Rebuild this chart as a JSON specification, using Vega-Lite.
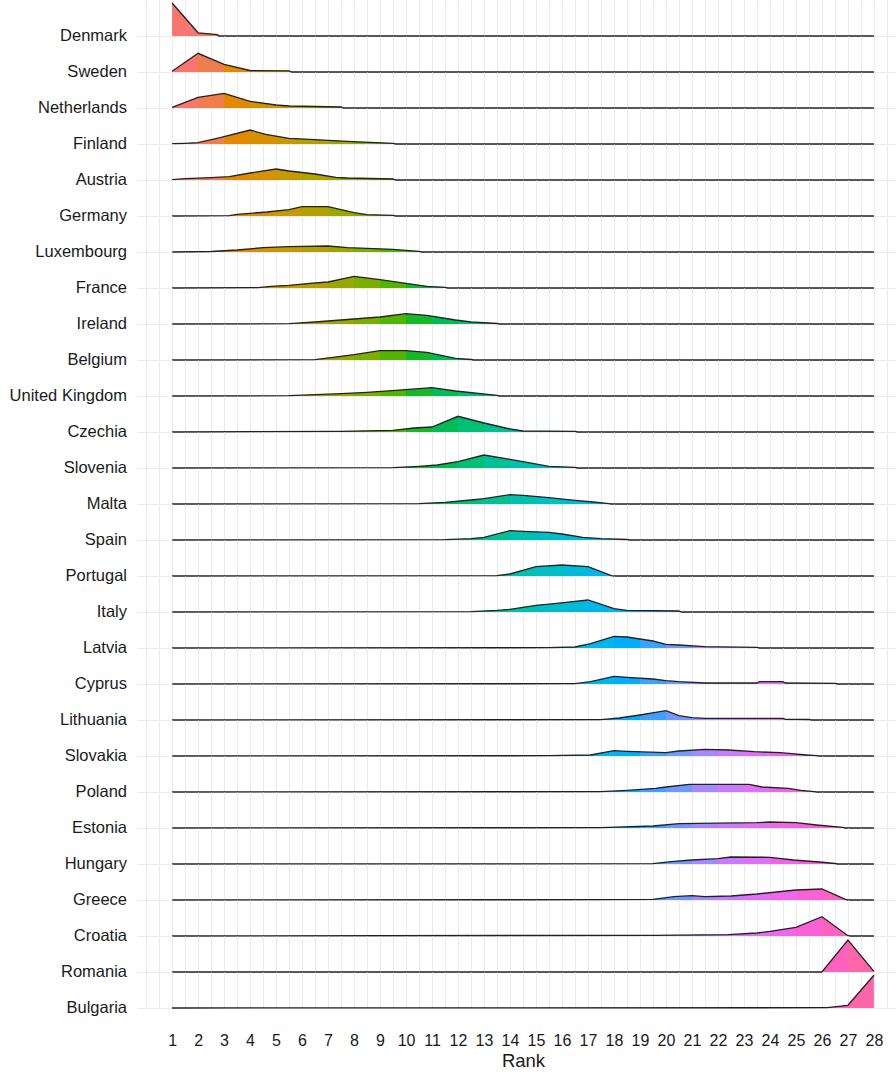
{
  "$schema": "https://vega.github.io/schema/vega-lite/v6.json",
  "padding": {"left": 9, "top": 0, "right": 0, "bottom": 0},
  "background": "white",
  "bounds": "flush",
  "data": {"values": [
    {"country":"Denmark","rank":1,"density":33},{"country":"Denmark","rank":2,"density":3.2},{"country":"Denmark","rank":2.75,"density":1.3},{"country":"Denmark","rank":2.8,"density":0},{"country":"Denmark","rank":28,"density":0},
    {"country":"Sweden","rank":1,"density":0.7},{"country":"Sweden","rank":2,"density":18.7},{"country":"Sweden","rank":3,"density":7.7},{"country":"Sweden","rank":4,"density":1.5},{"country":"Sweden","rank":5.5,"density":1.2},{"country":"Sweden","rank":5.6,"density":0},{"country":"Sweden","rank":28,"density":0},
    {"country":"Netherlands","rank":1,"density":0.7},{"country":"Netherlands","rank":2,"density":10.7},{"country":"Netherlands","rank":3,"density":14.7},{"country":"Netherlands","rank":4,"density":6.7},{"country":"Netherlands","rank":5,"density":3},{"country":"Netherlands","rank":5.5,"density":2},{"country":"Netherlands","rank":7.5,"density":1},{"country":"Netherlands","rank":7.6,"density":0},{"country":"Netherlands","rank":28,"density":0},
    {"country":"Finland","rank":1,"density":0.3},{"country":"Finland","rank":1.5,"density":0.7},{"country":"Finland","rank":2,"density":1.3},{"country":"Finland","rank":2.85,"density":6.3},{"country":"Finland","rank":4,"density":14},{"country":"Finland","rank":4.6,"density":9.7},{"country":"Finland","rank":5.5,"density":5.7},{"country":"Finland","rank":6.5,"density":4.3},{"country":"Finland","rank":7.75,"density":2.7},{"country":"Finland","rank":9.5,"density":0.7},{"country":"Finland","rank":9.6,"density":0},{"country":"Finland","rank":28,"density":0},
    {"country":"Austria","rank":1,"density":0.3},{"country":"Austria","rank":1.5,"density":1.3},{"country":"Austria","rank":2.5,"density":2.3},{"country":"Austria","rank":3.2,"density":3.3},{"country":"Austria","rank":4,"density":7},{"country":"Austria","rank":5,"density":11},{"country":"Austria","rank":5.5,"density":9},{"country":"Austria","rank":6.5,"density":6},{"country":"Austria","rank":7.3,"density":2.7},{"country":"Austria","rank":7.75,"density":2},{"country":"Austria","rank":9.5,"density":1},{"country":"Austria","rank":9.6,"density":0},{"country":"Austria","rank":28,"density":0},
    {"country":"Germany","rank":1,"density":0},{"country":"Germany","rank":3.2,"density":0.3},{"country":"Germany","rank":3.5,"density":1.7},{"country":"Germany","rank":4.65,"density":4},{"country":"Germany","rank":5.5,"density":6.3},{"country":"Germany","rank":6,"density":9.3},{"country":"Germany","rank":7,"density":9.3},{"country":"Germany","rank":8,"density":3.3},{"country":"Germany","rank":8.5,"density":1.3},{"country":"Germany","rank":9.5,"density":0.7},{"country":"Germany","rank":9.6,"density":0},{"country":"Germany","rank":28,"density":0},
    {"country":"Luxembourg","rank":1,"density":0},{"country":"Luxembourg","rank":2.5,"density":0.5},{"country":"Luxembourg","rank":3.5,"density":2},{"country":"Luxembourg","rank":4.5,"density":4.3},{"country":"Luxembourg","rank":5.5,"density":5.3},{"country":"Luxembourg","rank":7,"density":6},{"country":"Luxembourg","rank":7.75,"density":4.3},{"country":"Luxembourg","rank":9.5,"density":2.7},{"country":"Luxembourg","rank":10.5,"density":0.7},{"country":"Luxembourg","rank":10.6,"density":0},{"country":"Luxembourg","rank":28,"density":0},
    {"country":"France","rank":1,"density":0},{"country":"France","rank":4.3,"density":0.3},{"country":"France","rank":4.8,"density":1.7},{"country":"France","rank":5.5,"density":2.7},{"country":"France","rank":6.3,"density":4.7},{"country":"France","rank":7,"density":6},{"country":"France","rank":8,"density":11.7},{"country":"France","rank":9,"density":8.3},{"country":"France","rank":10,"density":4.7},{"country":"France","rank":10.8,"density":1.7},{"country":"France","rank":11.5,"density":0.7},{"country":"France","rank":11.6,"density":0},{"country":"France","rank":28,"density":0},
    {"country":"Ireland","rank":1,"density":0},{"country":"Ireland","rank":5.5,"density":0.3},{"country":"Ireland","rank":6.5,"density":2},{"country":"Ireland","rank":7.5,"density":4},{"country":"Ireland","rank":9,"density":7},{"country":"Ireland","rank":10,"density":10.3},{"country":"Ireland","rank":10.8,"density":8.7},{"country":"Ireland","rank":11.9,"density":4},{"country":"Ireland","rank":12.5,"density":2},{"country":"Ireland","rank":13.5,"density":0.5},{"country":"Ireland","rank":13.6,"density":0},{"country":"Ireland","rank":28,"density":0},
    {"country":"Belgium","rank":1,"density":0},{"country":"Belgium","rank":6.5,"density":0.3},{"country":"Belgium","rank":7.2,"density":2.7},{"country":"Belgium","rank":8,"density":5.3},{"country":"Belgium","rank":9,"density":9.3},{"country":"Belgium","rank":10,"density":9.3},{"country":"Belgium","rank":10.8,"density":7.7},{"country":"Belgium","rank":11.9,"density":1.7},{"country":"Belgium","rank":12.5,"density":0.5},{"country":"Belgium","rank":12.6,"density":0},{"country":"Belgium","rank":28,"density":0},
    {"country":"United Kingdom","rank":1,"density":0},{"country":"United Kingdom","rank":5.5,"density":0.3},{"country":"United Kingdom","rank":7.5,"density":2.3},{"country":"United Kingdom","rank":8.5,"density":3.7},{"country":"United Kingdom","rank":9.6,"density":5.7},{"country":"United Kingdom","rank":11,"density":8.3},{"country":"United Kingdom","rank":11.9,"density":5},{"country":"United Kingdom","rank":13.5,"density":0.7},{"country":"United Kingdom","rank":13.6,"density":0},{"country":"United Kingdom","rank":28,"density":0},
    {"country":"Czechia","rank":1,"density":0},{"country":"Czechia","rank":7.5,"density":0.7},{"country":"Czechia","rank":9.5,"density":1.7},{"country":"Czechia","rank":10.3,"density":4},{"country":"Czechia","rank":11,"density":5},{"country":"Czechia","rank":12,"density":15.7},{"country":"Czechia","rank":13,"density":9},{"country":"Czechia","rank":14,"density":3},{"country":"Czechia","rank":14.5,"density":1},{"country":"Czechia","rank":16.5,"density":0.7},{"country":"Czechia","rank":16.6,"density":0},{"country":"Czechia","rank":28,"density":0},
    {"country":"Slovenia","rank":1,"density":0},{"country":"Slovenia","rank":9.5,"density":0.3},{"country":"Slovenia","rank":10.5,"density":1.7},{"country":"Slovenia","rank":11.2,"density":3},{"country":"Slovenia","rank":12,"density":6.3},{"country":"Slovenia","rank":13,"density":13},{"country":"Slovenia","rank":14,"density":8.7},{"country":"Slovenia","rank":14.5,"density":6.3},{"country":"Slovenia","rank":15.5,"density":1.7},{"country":"Slovenia","rank":16.5,"density":0.7},{"country":"Slovenia","rank":16.6,"density":0},{"country":"Slovenia","rank":28,"density":0},
    {"country":"Malta","rank":1,"density":0},{"country":"Malta","rank":10.5,"density":0.3},{"country":"Malta","rank":11.5,"density":1.7},{"country":"Malta","rank":12.5,"density":4},{"country":"Malta","rank":13,"density":5.3},{"country":"Malta","rank":14,"density":9.3},{"country":"Malta","rank":14.5,"density":8.7},{"country":"Malta","rank":15.5,"density":6.3},{"country":"Malta","rank":16.5,"density":3.7},{"country":"Malta","rank":17.2,"density":2},{"country":"Malta","rank":17.8,"density":0.3},{"country":"Malta","rank":17.9,"density":0},{"country":"Malta","rank":28,"density":0},
    {"country":"Spain","rank":1,"density":0},{"country":"Spain","rank":11.5,"density":0.3},{"country":"Spain","rank":12.5,"density":1.3},{"country":"Spain","rank":13,"density":2.7},{"country":"Spain","rank":14,"density":9.3},{"country":"Spain","rank":14.5,"density":8.7},{"country":"Spain","rank":15.5,"density":7.7},{"country":"Spain","rank":16,"density":6},{"country":"Spain","rank":16.8,"density":2.7},{"country":"Spain","rank":17.5,"density":1.3},{"country":"Spain","rank":18.5,"density":0.5},{"country":"Spain","rank":18.6,"density":0},{"country":"Spain","rank":28,"density":0},
    {"country":"Portugal","rank":1,"density":0},{"country":"Portugal","rank":13.5,"density":0.3},{"country":"Portugal","rank":14,"density":2},{"country":"Portugal","rank":15,"density":9.3},{"country":"Portugal","rank":16,"density":11},{"country":"Portugal","rank":17,"density":9.3},{"country":"Portugal","rank":17.9,"density":0.3},{"country":"Portugal","rank":18,"density":0},{"country":"Portugal","rank":28,"density":0},
    {"country":"Italy","rank":1,"density":0},{"country":"Italy","rank":12.5,"density":0.3},{"country":"Italy","rank":13.5,"density":1.7},{"country":"Italy","rank":14,"density":2.7},{"country":"Italy","rank":15,"density":6.7},{"country":"Italy","rank":15.8,"density":8.7},{"country":"Italy","rank":17,"density":12},{"country":"Italy","rank":18,"density":3.3},{"country":"Italy","rank":18.5,"density":1.7},{"country":"Italy","rank":20.5,"density":1},{"country":"Italy","rank":20.6,"density":0},{"country":"Italy","rank":28,"density":0},
    {"country":"Latvia","rank":1,"density":0},{"country":"Latvia","rank":15.5,"density":0.3},{"country":"Latvia","rank":16.5,"density":1},{"country":"Latvia","rank":17.1,"density":4.3},{"country":"Latvia","rank":18,"density":11.7},{"country":"Latvia","rank":18.5,"density":11},{"country":"Latvia","rank":19.5,"density":7},{"country":"Latvia","rank":20,"density":3.7},{"country":"Latvia","rank":20.5,"density":3},{"country":"Latvia","rank":21.5,"density":1.3},{"country":"Latvia","rank":23.5,"density":0.7},{"country":"Latvia","rank":23.6,"density":0},{"country":"Latvia","rank":28,"density":0},
    {"country":"Cyprus","rank":1,"density":0},{"country":"Cyprus","rank":16.5,"density":0.3},{"country":"Cyprus","rank":17.1,"density":2.3},{"country":"Cyprus","rank":18,"density":7.7},{"country":"Cyprus","rank":18.5,"density":6.7},{"country":"Cyprus","rank":19.5,"density":5},{"country":"Cyprus","rank":20,"density":3.3},{"country":"Cyprus","rank":20.5,"density":2.3},{"country":"Cyprus","rank":21.5,"density":1},{"country":"Cyprus","rank":23.5,"density":1},{"country":"Cyprus","rank":23.6,"density":2.3},{"country":"Cyprus","rank":24.5,"density":2.3},{"country":"Cyprus","rank":24.6,"density":1},{"country":"Cyprus","rank":26.5,"density":0.7},{"country":"Cyprus","rank":26.6,"density":0},{"country":"Cyprus","rank":28,"density":0},
    {"country":"Lithuania","rank":1,"density":0},{"country":"Lithuania","rank":17.5,"density":0.3},{"country":"Lithuania","rank":18.2,"density":2},{"country":"Lithuania","rank":19,"density":5},{"country":"Lithuania","rank":20,"density":9.3},{"country":"Lithuania","rank":20.5,"density":4.3},{"country":"Lithuania","rank":21,"density":2.3},{"country":"Lithuania","rank":21.5,"density":1.7},{"country":"Lithuania","rank":24.5,"density":1.7},{"country":"Lithuania","rank":24.6,"density":0.7},{"country":"Lithuania","rank":25.5,"density":0.5},{"country":"Lithuania","rank":25.6,"density":0},{"country":"Lithuania","rank":28,"density":0},
    {"country":"Slovakia","rank":1,"density":0},{"country":"Slovakia","rank":15.5,"density":0.3},{"country":"Slovakia","rank":17.1,"density":1},{"country":"Slovakia","rank":18,"density":5.3},{"country":"Slovakia","rank":18.5,"density":4.7},{"country":"Slovakia","rank":20,"density":3.3},{"country":"Slovakia","rank":20.5,"density":5},{"country":"Slovakia","rank":21.5,"density":6.7},{"country":"Slovakia","rank":22.4,"density":6},{"country":"Slovakia","rank":23.4,"density":4.3},{"country":"Slovakia","rank":24.4,"density":3.3},{"country":"Slovakia","rank":25.4,"density":1},{"country":"Slovakia","rank":25.8,"density":0.3},{"country":"Slovakia","rank":25.9,"density":0},{"country":"Slovakia","rank":28,"density":0},
    {"country":"Poland","rank":1,"density":0},{"country":"Poland","rank":17.5,"density":0.3},{"country":"Poland","rank":18.5,"density":1.7},{"country":"Poland","rank":19.6,"density":3.7},{"country":"Poland","rank":20,"density":5},{"country":"Poland","rank":20.9,"density":7.7},{"country":"Poland","rank":23.2,"density":7.7},{"country":"Poland","rank":23.7,"density":5},{"country":"Poland","rank":24.7,"density":3.7},{"country":"Poland","rank":25.2,"density":1.7},{"country":"Poland","rank":25.7,"density":0.3},{"country":"Poland","rank":25.8,"density":0},{"country":"Poland","rank":28,"density":0},
    {"country":"Estonia","rank":1,"density":0},{"country":"Estonia","rank":17.5,"density":0.3},{"country":"Estonia","rank":19.5,"density":2},{"country":"Estonia","rank":20.5,"density":4.3},{"country":"Estonia","rank":23.5,"density":5.3},{"country":"Estonia","rank":24,"density":6},{"country":"Estonia","rank":25,"density":5.3},{"country":"Estonia","rank":25.8,"density":3},{"country":"Estonia","rank":26.8,"density":0.7},{"country":"Estonia","rank":26.9,"density":0},{"country":"Estonia","rank":28,"density":0},
    {"country":"Hungary","rank":1,"density":0},{"country":"Hungary","rank":19.5,"density":0.3},{"country":"Hungary","rank":20.2,"density":2.3},{"country":"Hungary","rank":21,"density":4},{"country":"Hungary","rank":22,"density":5.3},{"country":"Hungary","rank":22.5,"density":7},{"country":"Hungary","rank":24,"density":6.7},{"country":"Hungary","rank":24.9,"density":4},{"country":"Hungary","rank":25.9,"density":2},{"country":"Hungary","rank":26.5,"density":0.5},{"country":"Hungary","rank":26.6,"density":0},{"country":"Hungary","rank":28,"density":0},
    {"country":"Greece","rank":1,"density":0},{"country":"Greece","rank":17.5,"density":0.3},{"country":"Greece","rank":19.5,"density":0.7},{"country":"Greece","rank":20.3,"density":3.3},{"country":"Greece","rank":21,"density":4.3},{"country":"Greece","rank":21.5,"density":3.3},{"country":"Greece","rank":22.5,"density":4},{"country":"Greece","rank":23.5,"density":6},{"country":"Greece","rank":25,"density":10},{"country":"Greece","rank":26,"density":11},{"country":"Greece","rank":26.9,"density":0.7},{"country":"Greece","rank":27,"density":0},{"country":"Greece","rank":28,"density":0},
    {"country":"Croatia","rank":1,"density":0},{"country":"Croatia","rank":19.5,"density":0.7},{"country":"Croatia","rank":22.4,"density":1.3},{"country":"Croatia","rank":23.5,"density":3},{"country":"Croatia","rank":24,"density":4.7},{"country":"Croatia","rank":25,"density":8.7},{"country":"Croatia","rank":26,"density":19.3},{"country":"Croatia","rank":27,"density":0.3},{"country":"Croatia","rank":27.1,"density":0},{"country":"Croatia","rank":28,"density":0},
    {"country":"Romania","rank":1,"density":0},{"country":"Romania","rank":26,"density":0},{"country":"Romania","rank":27,"density":32},{"country":"Romania","rank":28,"density":0.7},
    {"country":"Bulgaria","rank":1,"density":0},{"country":"Bulgaria","rank":26.2,"density":0.3},{"country":"Bulgaria","rank":27,"density":2.7},{"country":"Bulgaria","rank":28,"density":32.7}
  ]},
  "facet": {
    "row": {
      "field": "country",
      "type": "nominal",
      "sort": ["Denmark","Sweden","Netherlands","Finland","Austria","Germany","Luxembourg","France","Ireland","Belgium","United Kingdom","Czechia","Slovenia","Malta","Spain","Portugal","Italy","Latvia","Cyprus","Lithuania","Slovakia","Poland","Estonia","Hungary","Greece","Croatia","Romania","Bulgaria"],
      "header": {
        "title": null,
        "labelOrient": "left",
        "labelAngle": 0,
        "labelAlign": "left",
        "labelAnchor": "start",
        "labelBaseline": "middle",
        "labelFont": "Liberation Sans",
        "labelFontSize": 16.5,
        "labelColor": "#1A1A1A",
        "labelPadding": 10
      }
    }
  },
  "spacing": {"row": 0},
  "spec": {
    "width": 759,
    "height": 36,
    "encoding": {
      "x": {
        "field": "rank",
        "type": "quantitative",
        "scale": {"domain": [-0.35, 28.85], "nice": false, "zero": false},
        "axis": {
          "values": [0,0.5,1,1.5,2,2.5,3,3.5,4,4.5,5,5.5,6,6.5,7,7.5,8,8.5,9,9.5,10,10.5,11,11.5,12,12.5,13,13.5,14,14.5,15,15.5,16,16.5,17,17.5,18,18.5,19,19.5,20,20.5,21,21.5,22,22.5,23,23.5,24,24.5,25,25.5,26,26.5,27,27.5,28,28.5],
          "labelExpr": "datum.value >= 1 && datum.value % 1 == 0 ? '' + datum.value : ''",
          "grid": true,
          "gridColor": "#EBEBEB",
          "gridWidth": 1,
          "ticks": false,
          "domain": false,
          "labelFont": "Liberation Sans",
          "labelFontSize": 16,
          "labelColor": "#1A1A1A",
          "labelPadding": 24,
          "labelFlush": false,
          "labelOverlap": false,
          "title": "Rank",
          "titleFont": "Liberation Sans",
          "titleFontSize": 18.5,
          "titleFontWeight": "normal",
          "titleColor": "#1A1A1A",
          "titlePadding": 3,
          "titleX": 386
        }
      },
      "y": {
        "field": "density",
        "type": "quantitative",
        "scale": {"domain": [0, 36], "nice": false, "zero": true},
        "axis": {"values": [0], "grid": true, "gridColor": "#EBEBEB", "gridWidth": 1.2, "labels": false, "ticks": false, "domain": false, "title": null}
      }
    },
    "layer": [
      {
        "mark": {
          "type": "area",
          "opacity": 1,
          "fill": {
            "gradient": "linear", "x1": 0, "x2": 1, "y1": 0, "y2": 0,
            "stops": [
              {"offset":0,"color":"#F8766D"},{"offset":0.037037,"color":"#F8766D"},
              {"offset":0.037037,"color":"#F07E4C"},{"offset":0.074074,"color":"#F07E4C"},
              {"offset":0.074074,"color":"#E38900"},{"offset":0.111111,"color":"#E38900"},
              {"offset":0.111111,"color":"#D59100"},{"offset":0.148148,"color":"#D59100"},
              {"offset":0.148148,"color":"#C49A00"},{"offset":0.185185,"color":"#C49A00"},
              {"offset":0.185185,"color":"#B1A100"},{"offset":0.222222,"color":"#B1A100"},
              {"offset":0.222222,"color":"#99A800"},{"offset":0.259259,"color":"#99A800"},
              {"offset":0.259259,"color":"#7CAE00"},{"offset":0.296296,"color":"#7CAE00"},
              {"offset":0.296296,"color":"#53B400"},{"offset":0.333333,"color":"#53B400"},
              {"offset":0.333333,"color":"#16B82A"},{"offset":0.37037,"color":"#16B82A"},
              {"offset":0.37037,"color":"#00BC55"},{"offset":0.407407,"color":"#00BC55"},
              {"offset":0.407407,"color":"#00BF76"},{"offset":0.444444,"color":"#00BF76"},
              {"offset":0.444444,"color":"#00C094"},{"offset":0.481481,"color":"#00C094"},
              {"offset":0.481481,"color":"#00C1AE"},{"offset":0.518519,"color":"#00C1AE"},
              {"offset":0.518519,"color":"#00BFC4"},{"offset":0.555556,"color":"#00BFC4"},
              {"offset":0.555556,"color":"#00BBD8"},{"offset":0.592593,"color":"#00BBD8"},
              {"offset":0.592593,"color":"#00B6EB"},{"offset":0.62963,"color":"#00B6EB"},
              {"offset":0.62963,"color":"#00AEF9"},{"offset":0.666667,"color":"#00AEF9"},
              {"offset":0.666667,"color":"#3BA3FF"},{"offset":0.703704,"color":"#3BA3FF"},
              {"offset":0.703704,"color":"#7298FF"},{"offset":0.740741,"color":"#7298FF"},
              {"offset":0.740741,"color":"#A58AFF"},{"offset":0.777778,"color":"#A58AFF"},
              {"offset":0.777778,"color":"#C77CFF"},{"offset":0.814815,"color":"#C77CFF"},
              {"offset":0.814815,"color":"#DF70F8"},{"offset":0.851852,"color":"#DF70F8"},
              {"offset":0.851852,"color":"#F066EA"},{"offset":0.888889,"color":"#F066EA"},
              {"offset":0.888889,"color":"#FB61D7"},{"offset":0.925926,"color":"#FB61D7"},
              {"offset":0.925926,"color":"#FF61C1"},{"offset":0.962963,"color":"#FF61C1"},
              {"offset":0.962963,"color":"#FF66A8"},{"offset":1,"color":"#FF66A8"}
            ]
          }
        }
      },
      {
        "mark": {"type": "line", "color": "#222222", "strokeWidth": 1.3}
      }
    ]
  },
  "config": {
    "view": {"stroke": null},
    "font": "Liberation Sans"
  }
}
